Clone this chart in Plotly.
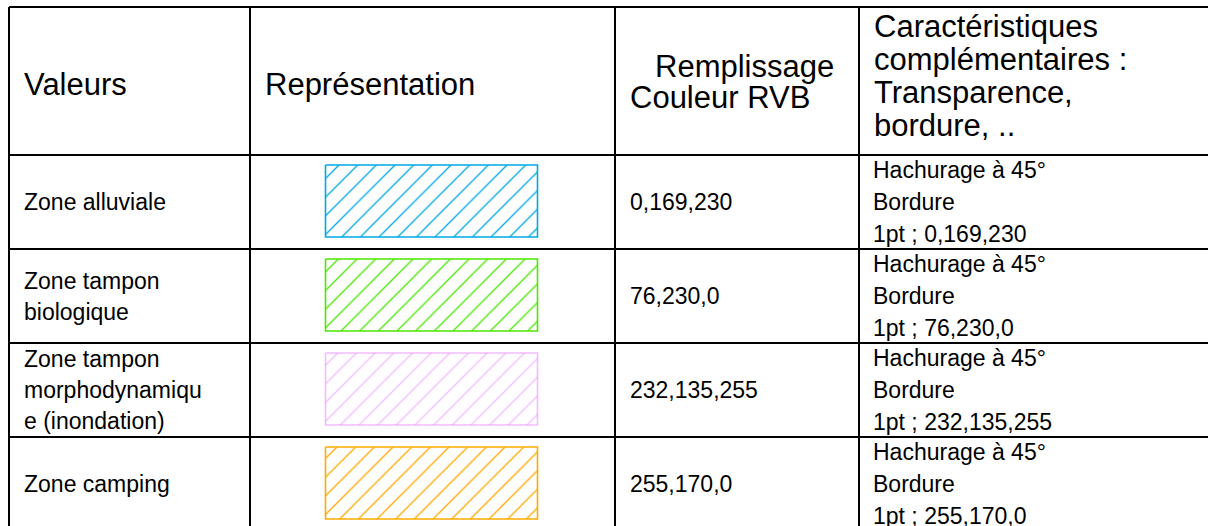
import plotly.graph_objects as go

# ---------------- data ----------------
header_lines = [
    ["Valeurs"],
    ["Représentation"],
    ["Remplissage", "Couleur RVB"],
    ["Caractéristiques", "complémentaires :", "Transparence,", "bordure, .."],
]
value_lines = [
    ["Zone alluviale"],
    ["Zone tampon", "biologique"],
    ["Zone tampon", "morphodynamiqu", "e (inondation)"],
    ["Zone camping"],
]
rgb_values = ["0,169,230", "76,230,0", "232,135,255", "255,170,0"]
hatch_labels = ["Hachurage à 45°", "Hachurage à 45°", "Hachurage à 45°", "Hachurage à 45°"]
border_labels = ["Bordure", "Bordure", "Bordure", "Bordure"]
border_specs = ["1pt ; 0,169,230", "1pt ; 76,230,0", "1pt ; 232,135,255", "1pt ; 255,170,0"]

# ---------------- layout constants ----------------
W, H = 1208, 526
col_edges = [9, 250, 615, 859]
row_edges = [7, 155, 249, 343, 437, 531]
FONT = "Liberation Sans, Arial, sans-serif"
HFS, BFS = 31, 23
line_w = 2
pattern_alpha = [1.0, 1.0, 0.55, 1.0]

header_x = [[22], [263], [653, 628], [872, 872, 872, 872]]
header_y = [[84], [84], [66, 97], [26, 59, 92, 125]]
text_x = [22, None, 628, 871]
pitch_vals = 31
pitch_chars = 32

fig = go.Figure()

# table grid
for x in col_edges:
    fig.add_shape(type="line", x0=x, x1=x, y0=row_edges[0], y1=H + 50,
                  line=dict(color="black", width=line_w), xref="x", yref="y")
for y in row_edges:
    fig.add_shape(type="line", x0=col_edges[0], x1=W + 50, y0=y, y1=y,
                  line=dict(color="black", width=line_w), xref="x", yref="y")

def add_text(x, y, txt, fs):
    fig.add_annotation(x=x, y=y, text=txt, showarrow=False, xanchor="left",
                       yanchor="middle", xref="x", yref="y",
                       font=dict(family=FONT, size=fs, color="black"))

# header
for c, lines in enumerate(header_lines):
    for i, t in enumerate(lines):
        add_text(header_x[c][i], header_y[c][i], t, HFS)

# body rows
rw, rh = 212, 72
for r in range(4):
    top, bot = row_edges[r + 1], row_edges[r + 2]
    mid = (top + bot) / 2
    lines = value_lines[r]
    n = len(lines)
    for i, t in enumerate(lines):
        add_text(text_x[0], mid + (i - (n - 1) / 2) * pitch_vals, t, BFS)
    add_text(text_x[2], mid, rgb_values[r], BFS)
    chars = [hatch_labels[r], border_labels[r], border_specs[r]]
    for i, t in enumerate(chars):
        add_text(text_x[3], mid + (i - 1) * pitch_chars, t, BFS)
    cx = (col_edges[1] + col_edges[2]) / 2 - 1
    cy = mid - 1
    x0, x1 = cx - rw / 2, cx + rw / 2
    y0, y1 = cy - rh / 2, cy + rh / 2
    col = "rgba(%s,%s)" % (rgb_values[r], pattern_alpha[r])
    fig.add_trace(go.Scatter(
        x=[x0, x1, x1, x0, x0], y=[y0, y0, y1, y1, y0],
        mode="lines", fill="toself", fillcolor="white",
        line=dict(color=col, width=1.6),
        fillpattern=dict(shape="/", fgcolor=col, bgcolor="white",
                         size=13.2, solidity=0.1, fillmode="replace"),
        hoverinfo="skip", showlegend=False,
    ))

fig.update_layout(
    width=W, height=H, margin=dict(l=0, r=0, t=0, b=0),
    paper_bgcolor="white", plot_bgcolor="white",
    xaxis=dict(range=[0, W], visible=False, fixedrange=True),
    yaxis=dict(range=[H, 0], visible=False, fixedrange=True),
    showlegend=False,
)
fig.write_html("out.html", config={"displayModeBar": False, "staticPlot": True},
               post_script="document.body.style.margin='0';document.body.style.overflow='hidden';")
